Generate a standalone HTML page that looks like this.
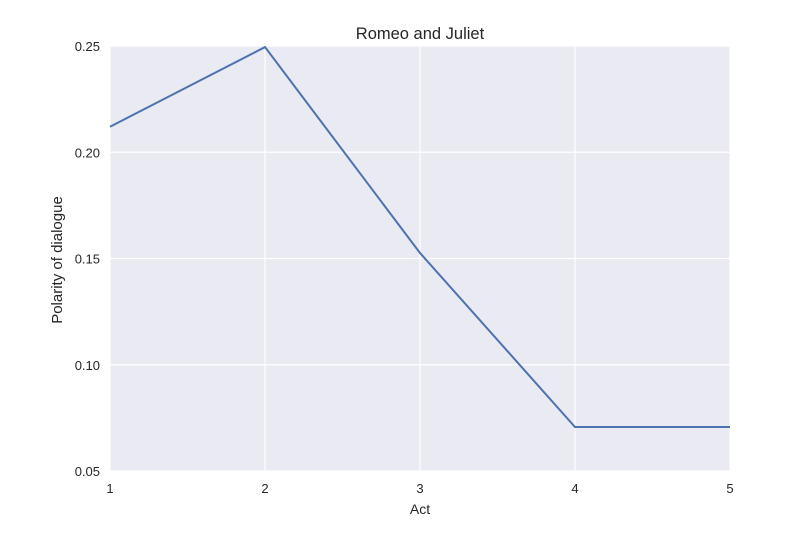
<!DOCTYPE html>
<html><head><meta charset="utf-8"><style>
body{margin:0;background:#fff;}
svg{display:block;font-family:"Liberation Sans",sans-serif;}
</style></head><body>
<svg id="chart" width="793" height="534">
<rect x="110" y="46" width="620" height="425" fill="#eaeaf2"/>
<g id="grid"></g>
<g id="ticks"></g>
<path id="line" fill="none" stroke="#4c72b0" stroke-width="2"/>
<text x="420" y="39" text-anchor="middle" font-size="16.5" fill="#262626">Romeo and Juliet</text>
<text x="420" y="514" text-anchor="middle" font-size="14" fill="#262626">Act</text>
<text transform="translate(62,260) rotate(-90)" text-anchor="middle" font-size="15" fill="#262626">Polarity of dialogue</text>
</svg>
<script>
const acts=[1,2,3,4,5];
const polarity=[0.212,0.2495,0.1526,0.0707,0.0707];
const yTicks=[0.05,0.10,0.15,0.20,0.25];
const yTickLabels=["0.05","0.10","0.15","0.20","0.25"];
const X0=110,X1=730,Y0=471,Y1=46;
function xs(v){return X0+(v-1)/(5-1)*(X1-X0);}
function ys(v){return Y0-(v-0.05)/(0.25-0.05)*(Y0-Y1);}
const NS="http://www.w3.org/2000/svg";
const grid=document.getElementById('grid'),ticks=document.getElementById('ticks');
function mk(tag,attrs,parent){const e=document.createElementNS(NS,tag);for(const k in attrs)e.setAttribute(k,attrs[k]);parent.appendChild(e);return e;}
acts.forEach(a=>{
  const l=mk('line',{x1:xs(a),x2:xs(a),y1:Y1,y2:Y0,stroke:'#fff','stroke-width':1.2},grid);
  
  
  const t=mk('text',{x:xs(a),y:493,'text-anchor':'middle','font-size':13,fill:'#262626'},ticks);
  t.textContent=a;
  
  
});
yTicks.forEach((v,i)=>{
  const l=mk('line',{x1:X0,x2:X1,y1:ys(v),y2:ys(v),stroke:'#fff','stroke-width':1.2},grid);
  
  
  const t=mk('text',{x:100,y:ys(v)+5,'text-anchor':'end','font-size':13,fill:'#262626'},ticks);
  t.textContent=yTickLabels[i];
  
  
});
document.getElementById('line').setAttribute('d',acts.map((a,i)=>(i?'L':'M')+xs(a)+','+ys(polarity[i])).join(' '));
</script>
</body></html>
